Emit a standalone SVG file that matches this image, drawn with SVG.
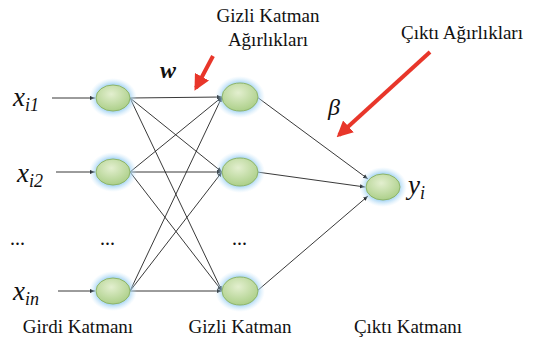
<svg xmlns="http://www.w3.org/2000/svg" width="534" height="349" viewBox="0 0 534 349">
<defs>
<marker id="ah" viewBox="0 0 10 10" refX="10" refY="5" markerWidth="5" markerHeight="5" orient="auto" markerUnits="userSpaceOnUse"><path d="M0,1 L10,5 L0,9 z" fill="#111"/></marker>
<marker id="rh" viewBox="0 0 10 10" refX="8" refY="5" markerWidth="4" markerHeight="4" orient="auto"><path d="M0,0 L10,5 L0,10 z" fill="#e8362a"/></marker>
<radialGradient id="glow"><stop offset="0.6" stop-color="#8cc8f0" stop-opacity="1"/><stop offset="1" stop-color="#c8e6fa" stop-opacity="0"/></radialGradient>
<radialGradient id="g" cx="45%" cy="35%" r="70%"><stop offset="0" stop-color="#e3efcf"/><stop offset="1" stop-color="#a8cd84"/></radialGradient>
<ellipse id="ngS" rx="24" ry="20" fill="url(#glow)"/>
<ellipse id="nS" rx="17" ry="13" fill="url(#g)" stroke="#8fb56a"/>
<ellipse id="ngL" rx="25" ry="21" fill="url(#glow)"/>
<ellipse id="nL" rx="18" ry="14" fill="url(#g)" stroke="#8fb56a"/>
</defs>
<rect width="534" height="349" fill="#fff"/>
<g id="connectors" stroke="#222" stroke-width="0.9" fill="none" marker-end="url(#ah)">
<line x1="52" y1="98" x2="95" y2="98"/>
<line x1="56" y1="172" x2="95" y2="172"/>
<line x1="58" y1="291" x2="95" y2="291"/>
<line x1="130" y1="98" x2="222" y2="97"/>
<line x1="130" y1="98" x2="222" y2="172"/>
<line x1="130" y1="98" x2="222" y2="291"/>
<line x1="130" y1="172" x2="222" y2="97"/>
<line x1="130" y1="172" x2="222" y2="172"/>
<line x1="130" y1="172" x2="222" y2="291"/>
<line x1="130" y1="291" x2="222" y2="97"/>
<line x1="130" y1="291" x2="222" y2="172"/>
<line x1="130" y1="291" x2="222" y2="291"/>
<line x1="257" y1="97" x2="368" y2="179"/>
<line x1="257" y1="172" x2="365" y2="187"/>
<line x1="257" y1="291" x2="368" y2="196"/>
<g stroke="#e8362a" stroke-width="4" marker-end="url(#rh)">
<line x1="213" y1="56" x2="196" y2="88"/>
<line x1="430" y1="52" x2="339" y2="135"/>
</g>
</g>
<g id="in1"><use href="#ngS" x="113" y="98"/><use href="#nS" x="113" y="98"/></g>
<g id="in2"><use href="#ngS" x="113" y="172"/><use href="#nS" x="113" y="172"/></g>
<g id="in3"><use href="#ngS" x="113" y="291"/><use href="#nS" x="113" y="291"/></g>
<g id="h1"><use href="#ngL" x="240" y="97"/><use href="#nL" x="240" y="97"/></g>
<g id="h2"><use href="#ngL" x="240" y="172"/><use href="#nL" x="240" y="172"/></g>
<g id="h3"><use href="#ngL" x="240" y="291"/><use href="#nL" x="240" y="291"/></g>
<g id="out"><use href="#ngS" x="383" y="187"/><use href="#nS" x="383" y="187"/></g>
<g id="labels" fill="#111">
<text x="13" y="106" font-family="Liberation Serif" font-style="italic" font-size="27">x<tspan font-size="18" dy="5">i1</tspan></text>
<text x="17" y="182" font-family="Liberation Serif" font-style="italic" font-size="27">x<tspan font-size="18" dy="5">i2</tspan></text>
<text x="13" y="300" font-family="Liberation Serif" font-style="italic" font-size="27">x<tspan font-size="18" dy="5">in</tspan></text>
<text x="408" y="194" font-family="Liberation Serif" font-style="italic" font-size="27">y<tspan font-size="18" dy="5">i</tspan></text>
<text x="10" y="245" font-family="Liberation Serif" font-size="20">...</text>
<text x="100" y="245" font-family="Liberation Serif" font-size="20">...</text>
<text x="232" y="245" font-family="Liberation Serif" font-size="20">...</text>
<text x="160" y="78" font-family="Liberation Serif" font-style="italic" font-weight="bold" font-size="24">w</text>
<text x="328" y="115" font-family="Liberation Serif" font-style="italic" font-size="24">β</text>
<text x="268" y="22" font-family="Liberation Serif" font-size="19" text-anchor="middle">Gizli Katman</text>
<text x="268" y="46" font-family="Liberation Serif" font-size="19" text-anchor="middle">Ağırlıkları</text>
<text x="462" y="39" font-family="Liberation Serif" font-size="19" text-anchor="middle">Çıktı Ağırlıkları</text>
<text x="78" y="333" font-family="Liberation Serif" font-size="19" text-anchor="middle">Girdi Katmanı</text>
<text x="240" y="333" font-family="Liberation Serif" font-size="19" text-anchor="middle">Gizli Katman</text>
<text x="408" y="333" font-family="Liberation Serif" font-size="19" text-anchor="middle">Çıktı Katmanı</text>
</g>
</svg>
